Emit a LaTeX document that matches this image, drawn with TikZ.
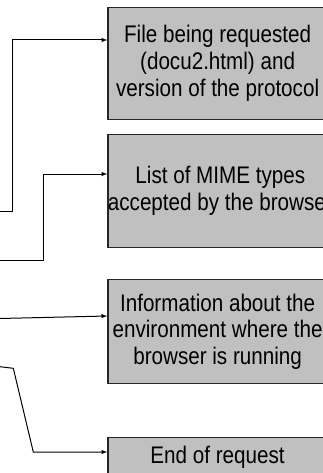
\documentclass[tikz,border=0pt]{standalone}
\usepackage{fontspec}
\setmainfont{Liberation Sans}[FakeStretch=0.86]
\usepackage{tikz}
\usetikzlibrary{
  arrows,%
  calc,%
  positioning
}
\tikzset{>=latex}
\definecolor{boxgray}{HTML}{C0C0C0}
\tikzset{infobox/.style={draw=black!85, fill=boxgray, line width=1.2pt,
    anchor=north west, minimum width=219.4pt, align=center, inner sep=0pt,
    font=\fontsize{24}{26.7}\selectfont}}
\tikzset{link/.style={->, line width=1pt}}

\begin{document}
\begin{tikzpicture}[x=1pt, y=-1pt]
  \useasboundingbox (0, 0) rectangle (322, 473); %
  % the four explanation boxes
  \node[infobox, minimum height=112.3pt] (file) at (107.3, 6.7) {File being requested\\(docu2.html) and\\version of the protocol}; %
  \node[infobox, minimum height=112.7pt] (mime) at (107.3, 134) {List of MIME types\\accepted by the browser}; %
  \node[infobox, minimum height=104pt] (env) at (107.3, 279) {Information about the\\environment where the\\browser is running}; %
  \node[infobox, minimum height=39pt] (end) at (107.3, 437) {End of request}; %
  % free ends and bends of the connectors
  \coordinate (s1) at (0, 211.7); \coordinate (b1) at (12.3, 40); %
  \coordinate (s2) at (0, 260); \coordinate (b2) at (43.7, 174); %
  \coordinate (s3) at (0, 318.5); \coordinate (b3) at (50, 316); %
  \coordinate (s4) at (0, 366.7); \coordinate (b4) at (13.3, 368.3); \coordinate (c4) at (33.3, 452); %
  \draw[link] (s1) -| (b1) -- (file.west |- b1); %
  \draw[link] (s2) -| (b2) -- (mime.west |- b2); %
  \draw[link] (s3) -- (env.west |- b3); %
  \draw[link] (s4) -- (b4) -- (c4) -- (end.west |- c4); %
\end{tikzpicture}
\end{document}
